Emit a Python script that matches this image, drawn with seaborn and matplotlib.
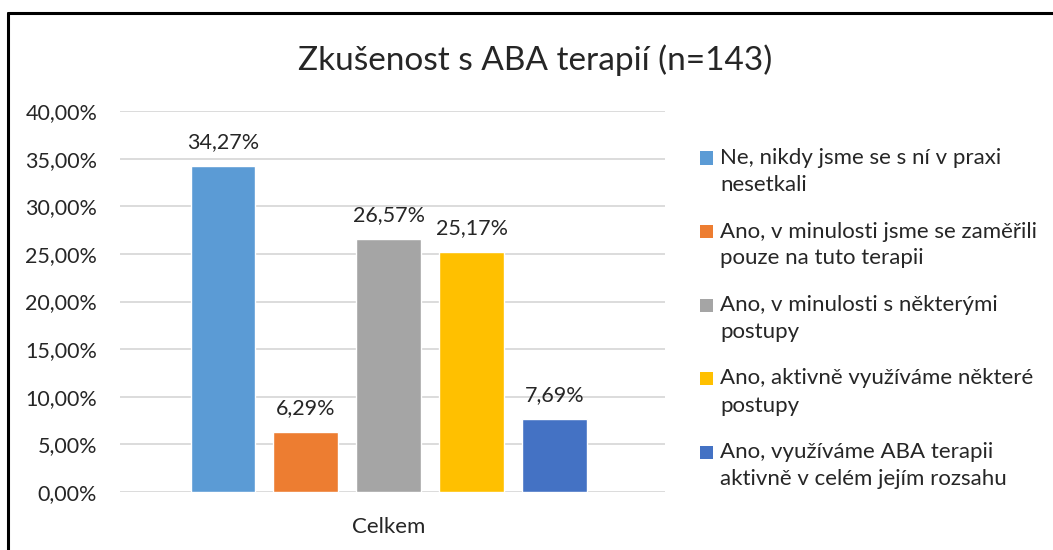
import pandas as pd
import matplotlib
matplotlib.use('Agg')
import matplotlib.pyplot as plt
import seaborn as sns
from matplotlib.lines import Line2D
from matplotlib.patches import Rectangle

# Data
kategorie = ['Celkem']
odpovedi = [
    'Ne, nikdy jsme se s ní v praxi\nnesetkali',
    'Ano, v minulosti jsme se zaměřili\npouze na tuto terapii',
    'Ano, v minulosti s některými\npostupy',
    'Ano, aktivně využíváme některé\npostupy',
    'Ano, využíváme ABA terapii\naktivně v celém jejím rozsahu',
]
podil = [0.3427, 0.0629, 0.2657, 0.2517, 0.0769]
barvy = ['#5B9BD5', '#ED7D31', '#A5A5A5', '#FFC000', '#4472C4']
yticks = [0, 0.05, 0.10, 0.15, 0.20, 0.25, 0.30, 0.35, 0.40]

df = pd.DataFrame({'kategorie': kategorie * len(odpovedi), 'odpoved': odpovedi, 'podil': podil})

sns.set_style('white')
plt.rcParams['font.family'] = ['Lato', 'DejaVu Sans']

fig = plt.figure(figsize=(10.53, 5.5), dpi=100)
ax = fig.add_axes([0.114, 0.1055, 0.5175, 0.6925])

sns.barplot(data=df, x='kategorie', y='podil', hue='odpoved', palette=barvy,
            width=0.76, gap=0.217, ax=ax, legend=False, saturation=1)

ax.set_xlim(-0.493, 0.507)
ax.set_ylim(0, 0.40)
ax.set_yticks(yticks)
ax.set_yticklabels([f'{v*100:.2f}%'.replace('.', ',') for v in yticks], fontsize=15.5)
ax.tick_params(axis='x', labelsize=16, length=0, pad=18)
ax.tick_params(axis='y', length=0, pad=16.5)
ax.yaxis.grid(True, color='#D9D9D9', linewidth=1.3)
ax.set_axisbelow(True)
for s in ax.spines.values():
    s.set_visible(False)
ax.set_xlabel('')
ax.set_ylabel('')

for c in ax.containers:
    ax.bar_label(c, labels=[f'{v.get_height()*100:.2f}%'.replace('.', ',') for v in c],
                 fontsize=15.5, padding=10)

fig.text(0.508, 0.89, 'Zkušenost s ABA terapií (n=143)', ha='center', va='center', fontsize=24)

# Legenda (marker u prvniho radku textu)
W, H = 1053, 550
for i, (lab, col) in enumerate(zip(odpovedi, barvy)):
    yc = 158 + i * 73.5
    fig.add_artist(Rectangle((700 / W, 1 - (yc + 6.5) / H), 13 / W, 13 / H,
                             facecolor=col, edgecolor='none', transform=fig.transFigure))
    for j, radek in enumerate(lab.split('\n')):
        fig.text(720 / W, 1 - (yc + j * 27) / H, radek, ha='left', va='center', fontsize=16)

# Ramecek
fig.add_artist(Line2D([0.0076, 1.0], [0.976, 0.976], color='black', linewidth=2.2, transform=fig.transFigure))
fig.add_artist(Line2D([0.0076, 0.0076], [0.0, 0.976], color='black', linewidth=2.2, transform=fig.transFigure))

plt.savefig('out.png', dpi=100)
